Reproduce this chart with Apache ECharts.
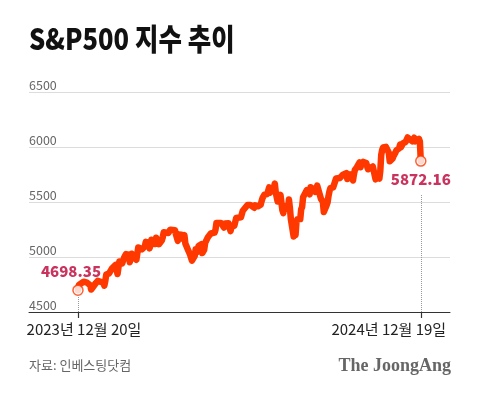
<!DOCTYPE html>
<html><head><meta charset="utf-8">
<script src="https://cdn.jsdelivr.net/npm/echarts@6/dist/echarts.min.js"></script>
<style>html,body{margin:0;padding:0;background:#fff}#c{width:480px;height:397px}</style>
</head><body><div id="c"></div>
<script>
const titleText = 'S&P500 지수 추이';
const sourceText = '자료: 인베스팅닷컴';
const logoText = 'The JoongAng';
const xTickLabels = ['2023년 12월 20일', '2024년 12월 19일'];
const yMin = 4500, yMax = 6500, yStep = 500;

const dates = [
'2023-12-20','2023-12-21','2023-12-22','2023-12-26','2023-12-27','2023-12-28','2023-12-29',
'2024-01-02','2024-01-03','2024-01-04','2024-01-05','2024-01-08','2024-01-09','2024-01-10','2024-01-11','2024-01-12','2024-01-16','2024-01-17','2024-01-18','2024-01-19','2024-01-22','2024-01-23','2024-01-24','2024-01-25','2024-01-26','2024-01-29','2024-01-30','2024-01-31',
'2024-02-01','2024-02-02','2024-02-05','2024-02-06','2024-02-07','2024-02-08','2024-02-09','2024-02-12','2024-02-13','2024-02-14','2024-02-15','2024-02-16','2024-02-20','2024-02-21','2024-02-22','2024-02-23','2024-02-26','2024-02-27','2024-02-28','2024-02-29',
'2024-03-01','2024-03-04','2024-03-05','2024-03-06','2024-03-07','2024-03-08','2024-03-11','2024-03-12','2024-03-13','2024-03-14','2024-03-15','2024-03-18','2024-03-19','2024-03-20','2024-03-21','2024-03-22','2024-03-25','2024-03-26','2024-03-27','2024-03-28',
'2024-04-01','2024-04-02','2024-04-03','2024-04-04','2024-04-05','2024-04-08','2024-04-09','2024-04-10','2024-04-11','2024-04-12','2024-04-15','2024-04-16','2024-04-17','2024-04-18','2024-04-19','2024-04-22','2024-04-23','2024-04-24','2024-04-25','2024-04-26','2024-04-29','2024-04-30',
'2024-05-01','2024-05-02','2024-05-03','2024-05-06','2024-05-07','2024-05-08','2024-05-09','2024-05-10','2024-05-13','2024-05-14','2024-05-15','2024-05-16','2024-05-17','2024-05-20','2024-05-21','2024-05-22','2024-05-23','2024-05-24','2024-05-28','2024-05-29','2024-05-30','2024-05-31',
'2024-06-03','2024-06-04','2024-06-05','2024-06-06','2024-06-07','2024-06-10','2024-06-11','2024-06-12','2024-06-13','2024-06-14','2024-06-17','2024-06-18','2024-06-20','2024-06-21','2024-06-24','2024-06-25','2024-06-26','2024-06-27','2024-06-28',
'2024-07-01','2024-07-02','2024-07-03','2024-07-05','2024-07-08','2024-07-09','2024-07-10','2024-07-11','2024-07-12','2024-07-15','2024-07-16','2024-07-17','2024-07-18','2024-07-19','2024-07-22','2024-07-23','2024-07-24','2024-07-25','2024-07-26','2024-07-29','2024-07-30','2024-07-31',
'2024-08-01','2024-08-02','2024-08-05','2024-08-06','2024-08-07','2024-08-08','2024-08-09','2024-08-12','2024-08-13','2024-08-14','2024-08-15','2024-08-16','2024-08-19','2024-08-20','2024-08-21','2024-08-22','2024-08-23','2024-08-26','2024-08-27','2024-08-28','2024-08-29','2024-08-30',
'2024-09-03','2024-09-04','2024-09-05','2024-09-06','2024-09-09','2024-09-10','2024-09-11','2024-09-12','2024-09-13','2024-09-16','2024-09-17','2024-09-18','2024-09-19','2024-09-20','2024-09-23','2024-09-24','2024-09-25','2024-09-26','2024-09-27','2024-09-30',
'2024-10-01','2024-10-02','2024-10-03','2024-10-04','2024-10-07','2024-10-08','2024-10-09','2024-10-10','2024-10-11','2024-10-14','2024-10-15','2024-10-16','2024-10-17','2024-10-18','2024-10-21','2024-10-22','2024-10-23','2024-10-24','2024-10-25','2024-10-28','2024-10-29','2024-10-30','2024-10-31',
'2024-11-01','2024-11-04','2024-11-05','2024-11-06','2024-11-07','2024-11-08','2024-11-11','2024-11-12','2024-11-13','2024-11-14','2024-11-15','2024-11-18','2024-11-19','2024-11-20','2024-11-21','2024-11-22','2024-11-25','2024-11-26','2024-11-27','2024-11-29',
'2024-12-02','2024-12-03','2024-12-04','2024-12-05','2024-12-06','2024-12-09','2024-12-10','2024-12-11','2024-12-12','2024-12-13','2024-12-16','2024-12-17','2024-12-18'
];
const closes = [
4698.35,4746.75,4754.63,4774.75,4781.58,4783.35,4769.83,
4742.83,4704.81,4688.68,4697.24,4763.54,4756.50,4783.45,4780.24,4783.83,4765.98,4739.21,4780.94,4839.81,4850.43,4864.60,4868.55,4894.16,4890.97,4927.93,4924.97,4845.65,
4906.19,4958.61,4942.81,4954.23,4995.06,4997.91,5026.61,5021.84,4953.17,5000.62,5029.73,5005.57,4975.51,4981.80,5087.03,5088.80,5069.53,5078.18,5069.76,5096.27,
5137.08,5130.95,5078.65,5104.76,5157.36,5123.69,5117.94,5175.27,5165.31,5150.48,5117.09,5149.42,5178.51,5224.62,5241.53,5234.18,5218.19,5203.58,5248.49,5254.35,
5243.77,5205.81,5211.49,5147.21,5204.34,5202.39,5209.91,5160.64,5199.06,5123.41,5061.82,5051.41,5022.21,5011.12,4967.23,5010.60,5070.55,5071.63,5048.42,5099.96,5116.17,5035.69,
5018.39,5064.20,5127.79,5180.74,5187.70,5187.67,5214.08,5222.68,5221.42,5246.68,5308.15,5297.10,5303.27,5308.13,5321.41,5307.01,5267.84,5304.72,5306.04,5266.95,5235.48,5277.51,
5283.40,5291.34,5354.03,5352.96,5346.99,5360.79,5375.32,5421.03,5433.74,5431.60,5473.23,5487.03,5473.17,5464.62,5447.87,5469.30,5477.90,5482.87,5460.48,
5475.09,5509.01,5537.02,5567.19,5572.85,5576.98,5633.91,5584.54,5615.35,5631.22,5667.20,5588.27,5544.59,5505.00,5564.41,5555.74,5427.13,5399.22,5459.10,5463.54,5436.44,5522.30,
5446.68,5346.56,5186.33,5240.03,5199.50,5319.31,5344.16,5344.39,5434.43,5455.21,5543.22,5554.25,5608.25,5597.12,5620.85,5570.64,5634.61,5616.84,5625.80,5592.18,5591.96,5648.40,
5528.93,5520.07,5503.41,5408.42,5471.05,5495.52,5554.13,5595.76,5626.02,5633.09,5634.58,5618.26,5713.64,5702.55,5718.57,5732.93,5722.26,5745.37,5738.17,5762.48,
5708.75,5709.54,5699.94,5751.07,5695.94,5751.13,5792.04,5780.05,5815.03,5859.85,5815.26,5842.47,5841.47,5864.67,5853.98,5851.20,5797.42,5809.86,5808.12,5823.52,5832.92,5813.67,5705.45,
5728.80,5712.69,5782.76,5929.04,5973.10,5995.54,6001.35,5983.99,5985.38,5949.17,5870.62,5893.62,5916.98,5917.11,5948.71,5969.34,5987.37,6021.63,5998.74,6032.38,
6047.15,6049.88,6086.49,6075.11,6090.27,6052.85,6034.91,6084.19,6051.25,6051.09,6074.08,6050.61,5872.16
];

const DAY = 86400000;
const ts = dates.map(d => Date.parse(d + 'T00:00:00Z'));
const t0 = ts[0];
const tN = ts[ts.length - 1];
const v0 = closes[0], vN = closes[closes.length - 1];
const FONT = '"Noto Sans CJK KR", "Noto Sans", sans-serif';
const lineColor = '#ff3800';
const labelColor = '#bd0036';

const chart = echarts.init(document.getElementById('c'), null, {renderer: 'canvas'});
chart.setOption({
  animation: false,
  backgroundColor: '#fff',
  textStyle: {fontFamily: FONT},
  grid: {left: 29, right: 30, top: 92, height: 220, containLabel: false},
  xAxis: {
    type: 'value',
    min: t0 - 52 * DAY,
    max: tN + 31 * DAY,
    splitLine: {show: false},
    axisLine: {show: true, lineStyle: {color: '#333', width: 1}},
    axisTick: {show: true, customValues: [t0, tN], length: 6, lineStyle: {color: '#333', width: 1.2}},
    axisLabel: {
      customValues: [t0, tN],
      margin: 10,
      formatter: function (v) { return v === t0 ? '{a|' + xTickLabels[0] + '}' : '{b|' + xTickLabels[1] + '}'; },
      rich: {
        a: {fontFamily: FONT, fontSize: 15, color: '#222', padding: [0, 0, 0, 12]},
        b: {fontFamily: FONT, fontSize: 15, color: '#222', padding: [0, 64, 0, 0]}
      }
    }
  },
  yAxis: {
    type: 'value', min: yMin, max: yMax, interval: yStep,
    axisLine: {show: false}, axisTick: {show: false},
    splitLine: {show: true, lineStyle: {color: '#dcdcdc', width: 1}},
    axisLabel: {inside: true, margin: 0, verticalAlign: 'bottom', color: '#666', fontSize: 12.5, fontFamily: FONT,
      formatter: v => String(v)}
  },
  series: [
    {
      type: 'line',
      data: ts.map((t, i) => [t, closes[i]]),
      showSymbol: false,
      lineStyle: {color: lineColor, width: 6.5, cap: 'round', join: 'round'},
      z: 2
    },
    {
      type: 'scatter',
      symbol: 'circle', symbolSize: 10,
      itemStyle: {color: '#fff', borderColor: lineColor, borderWidth: 1.5},
      label: {show: true, fontFamily: FONT, fontSize: 15, fontWeight: 900, color: labelColor,
        formatter: p => p.value[1].toFixed(2)},
      data: [
        {value: [t0, v0], label: {position: 'top', distance: 6, offset: [-7, 0]}},
        {value: [tN, vN], label: {position: 'bottom', distance: 5}}
      ],
      markLine: {
        silent: true, symbol: ['none', 'none'], label: {show: false},
        lineStyle: {type: 'dotted', color: '#999', width: 1},
        data: [
          [{coord: [t0, yMin]}, {coord: [t0, v0 - 45]}],
          [{coord: [tN, yMin]}, {coord: [tN, vN - 300]}]
        ]
      },
      z: 3
    }
  ],
  graphic: [
    {type: 'text', x: 29, y: 24, scaleX: 0.85, style: {text: titleText, font: '900 30px ' + FONT, fill: '#111', textVerticalAlign: 'top'}},
    {type: 'text', left: 29, top: 359, style: {text: sourceText, font: '13px ' + FONT, fill: '#666'}},
    {type: 'text', right: 29, top: 357, style: {text: logoText, font: 'bold 18px "Liberation Serif", "DejaVu Serif", serif', fill: '#666'}}
  ]
});
</script>
</body></html>
